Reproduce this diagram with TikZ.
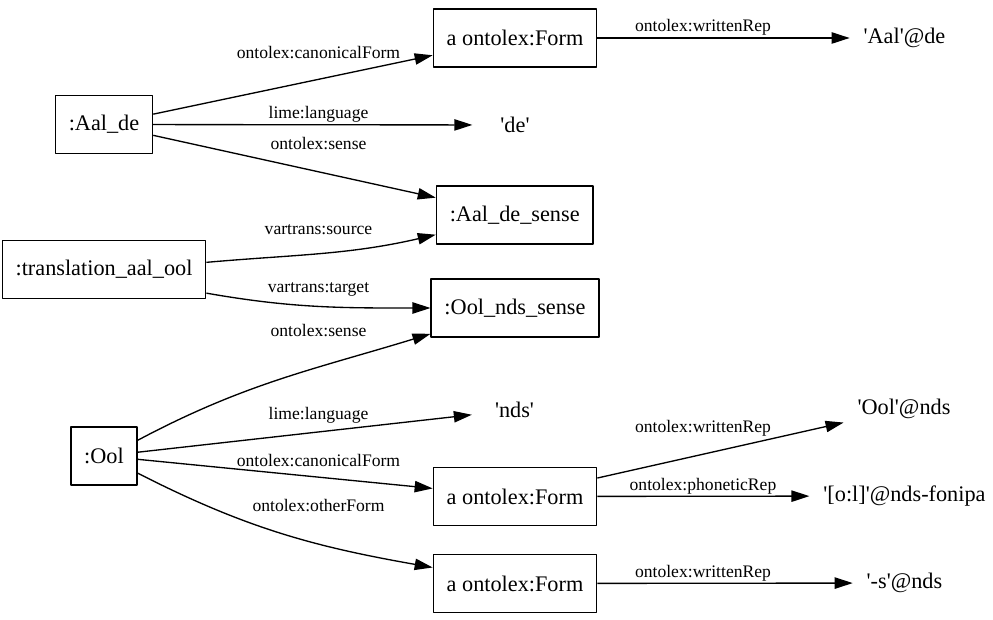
\documentclass[tikz,border=0pt]{standalone}
\usepackage{fontspec}
\setmainfont{Liberation Serif}
\usetikzlibrary{arrows.meta}
\newcommand{\nodefont}{\fontsize{16.7}{20}\selectfont}
\newcommand{\edgefont}{\fontsize{13.2}{16}\selectfont}
\newcommand{\sq}{\textquotesingle}
\begin{document}
\begin{tikzpicture}[x=0.75pt,y=-0.75pt,line join=round,line width=1pt,
  >={Triangle[length=13.5pt,width=8.5pt]},
  res/.style={draw,font=\nodefont,inner xsep=10pt,inner ysep=0pt,minimum height=43.5pt},
  lit/.style={font=\nodefont,inner xsep=10pt,inner ysep=0pt,minimum width=63pt,minimum height=43.5pt},
  lbl/.style={font=\edgefont,anchor=base,inner sep=0pt}]
\useasboundingbox (0,0) rectangle (993,620);

    \node [res] (aalde) at (104,124.5) {:Aal\_de};
    \node [res] (trans) at (104,269.5) {:translation\_aal\_ool};
    \node [res] (ool) at (104,456) {:Ool};
    \node [res] (form1) at (515,38) {a ontolex:Form};
    \node [lit] (de) at (515,125) {\sq de\sq};
    \node [res] (aalsense) at (514.7,215) {:Aal\_de\_sense};
    \node [res] (oolsense) at (515,308) {:Ool\_nds\_sense};
    \node [lit] (nds) at (514.5,410) {\sq nds\sq};
    \node [res] (form2) at (515,496.5) {a ontolex:Form};
    \node [res] (form3) at (515,583.5) {a ontolex:Form};
    \node [lit] (aalrep) at (904.5,38) {\sq Aal\sq @de};
    \node [lit] (oolrep) at (904,409) {\sq Ool\sq @nds};
    \node [lit] (fonipa) at (904.5,496) {\sq [o:l]\sq @nds-fonipa};
    \node [lit] (srep) at (904.5,583) {\sq -s\sq @nds};

\draw[->](aalde)--(form1) node[lbl] at (318.5,58.3) {ontolex:canonicalForm};
\draw[->](aalde)--(de) node[lbl] at (318.5,119) {lime:language};
\draw[->](aalde)--(aalsense) node[lbl] at (318.5,150) {ontolex:sense};
\draw[->](trans.4) to[out=5,in=193] (aalsense.194) node[lbl] at (318.5,235) {vartrans:source};
\draw[->](trans.-13) to[out=-10,in=180] (oolsense.west) node[lbl] at (318.5,293) {vartrans:target};
\draw[->](ool.25) to[out=28,in=197] (oolsense.197) node[lbl] at (318.5,336.7) {ontolex:sense};
\draw[->](ool)--(nds) node[lbl] at (318.5,419) {lime:language};
\draw[->](ool)--(form2) node[lbl] at (318.5,466.7) {ontolex:canonicalForm};
\draw[->](ool.-27) to[out=-27,in=170] (form3.169) node[lbl] at (318.5,511) {ontolex:otherForm};
\draw[->](form1)--(aalrep) node[lbl] at (703,31.7) {ontolex:writtenRep};
\draw[->](form2)--(oolrep) node[lbl] at (703,432.7) {ontolex:writtenRep};
\draw[->](form2)--(fonipa) node[lbl] at (703,490.7) {ontolex:phoneticRep};
\draw[->](form3)--(srep) node[lbl] at (703,577.7) {ontolex:writtenRep};
  \end{tikzpicture}
\end{document}
